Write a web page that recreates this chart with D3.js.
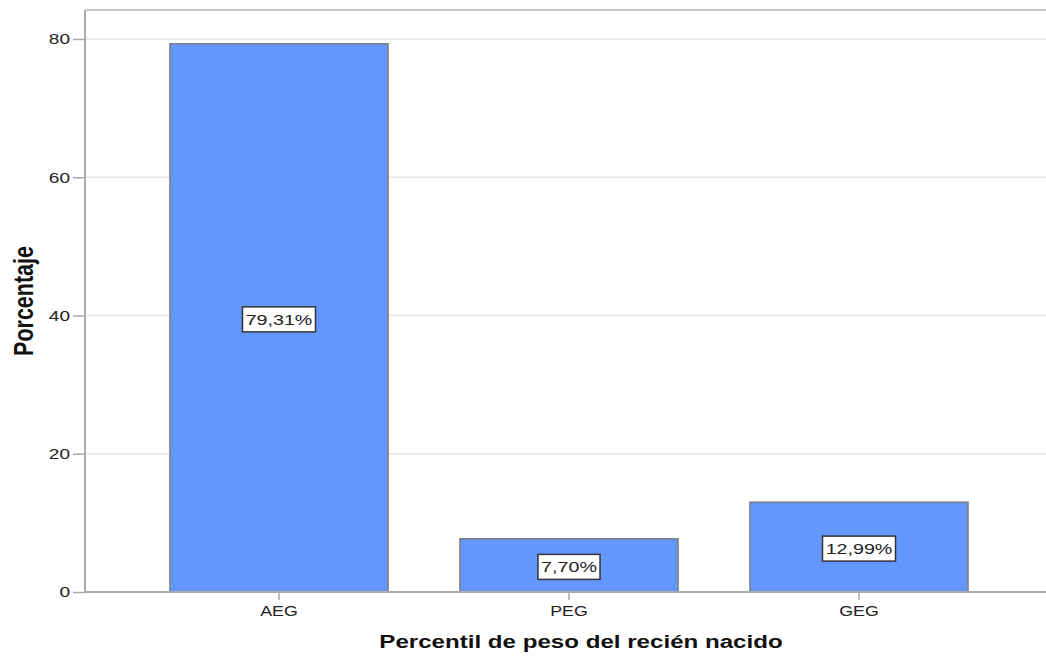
<!DOCTYPE html>
<html>
<head>
<meta charset="utf-8">
<script src="https://cdn.jsdelivr.net/npm/d3@7"></script>
<style>
  html, body { margin: 0; padding: 0; background: #fff; }
  svg { display: block; }
</style>
</head>
<body>
<svg id="chart" width="1046" height="657"></svg>
<script>
// Percentile categories of newborn weight and their share (%)
const categories = ["AEG", "PEG", "GEG"];
const percentages = [79.31, 7.70, 12.99];
const yTicks = [0, 20, 40, 60, 80];
const valueLabels = ["79,31%", "7,70%", "12,99%"];

const svg = d3.select("#chart");
const plotLeft = 85, plotTop = 10, plotBottom = 592, plotRight = 1046;
const font = "Arial, 'Liberation Sans', sans-serif";
const stretch = 1.27; // glyphs are drawn wide

const x = d3.scaleBand()
  .domain(categories)
  .range([134, 1004])
  .paddingInner(0.248)
  .paddingOuter(0.124);

const y = d3.scaleLinear()
  .domain([0, 80])
  .range([plotBottom, 39]);

// gridlines
svg.append("g")
  .selectAll("line")
  .data(yTicks.filter(d => d > 0))
  .join("line")
  .attr("x1", plotLeft).attr("x2", plotRight)
  .attr("y1", d => y(d)).attr("y2", d => y(d))
  .attr("stroke", "#e4e4e4").attr("stroke-width", 1.5);

// frame top
svg.append("line")
  .attr("x1", plotLeft).attr("x2", plotRight)
  .attr("y1", plotTop).attr("y2", plotTop)
  .attr("stroke", "#c8c8c8").attr("stroke-width", 2);

// bars
svg.append("g")
  .selectAll("rect")
  .data(categories)
  .join("rect")
  .attr("x", d => x(d))
  .attr("width", x.bandwidth())
  .attr("y", (d, i) => y(percentages[i]))
  .attr("height", (d, i) => plotBottom - y(percentages[i]))
  .attr("fill", "#6497fe")
  .attr("stroke", "#7d7d7d")
  .attr("stroke-width", 1.5);

// y axis
const yAxis = svg.append("g")
  .attr("transform", `translate(${plotLeft},0)`)
  .call(d3.axisLeft(y).tickValues(yTicks).tickSize(12).tickPadding(3).tickFormat(d3.format("d")));
yAxis.select(".domain").attr("stroke", "#aaa").attr("stroke-width", 2)
  .attr("d", `M0,${plotTop}V${plotBottom}`);
yAxis.selectAll(".tick line").attr("stroke", "#aaa").attr("stroke-width", 1.5);
yAxis.selectAll(".tick text")
  .attr("x", -15 / stretch)
  .attr("transform", `scale(${stretch},1)`)
  .attr("font-family", font)
  .attr("font-size", 15).attr("fill", "#222");

// x axis
const xAxis = svg.append("g")
  .attr("transform", `translate(0,${plotBottom})`)
  .call(d3.axisBottom(x).tickSize(8).tickPadding(6));
xAxis.select(".domain").attr("stroke", "#aaa").attr("stroke-width", 2)
  .attr("d", `M${plotLeft},0H${plotRight}`);
xAxis.selectAll(".tick line").attr("stroke", "#aaa").attr("stroke-width", 1.5);
xAxis.selectAll(".tick text")
  .attr("transform", `scale(${stretch},1)`)
  .attr("font-family", font)
  .attr("font-size", 14).attr("fill", "#222");

// value labels in boxes
const lab = svg.append("g")
  .selectAll("g")
  .data(categories)
  .join("g")
  .attr("transform", (d, i) => `translate(${x(d) + x.bandwidth() / 2},${y(percentages[i] / 2) + 1.5})`);

lab.append("text")
  .attr("text-anchor", "middle")
  .attr("dy", "0.36em")
  .attr("transform", `scale(${stretch},1)`)
  .attr("font-family", font)
  .attr("font-size", 15.5).attr("fill", "#222")
  .text((d, i) => valueLabels[i])
  .each(function() {
    const b = this.getBBox();
    const w = b.width * stretch + 6;
    d3.select(this.parentNode).insert("rect", "text")
      .attr("x", -w / 2).attr("y", -12.5)
      .attr("width", w).attr("height", 25)
      .attr("fill", "#fff")
      .attr("stroke", "#333").attr("stroke-width", 1.5);
  });

// axis titles
svg.append("text")
  .attr("transform", `translate(33,301) scale(${stretch},1) rotate(-90)`)
  .attr("text-anchor", "middle")
  .attr("font-family", font)
  .attr("font-size", 21.5).attr("font-weight", "bold").attr("fill", "#111")
  .text("Porcentaje");

svg.append("text")
  .attr("transform", `translate(581,648) scale(${stretch},1)`)
  .attr("text-anchor", "middle")
  .attr("font-family", font)
  .attr("font-size", 19).attr("font-weight", "bold").attr("fill", "#111")
  .text("Percentil de peso del recién nacido");
</script>
</body>
</html>
